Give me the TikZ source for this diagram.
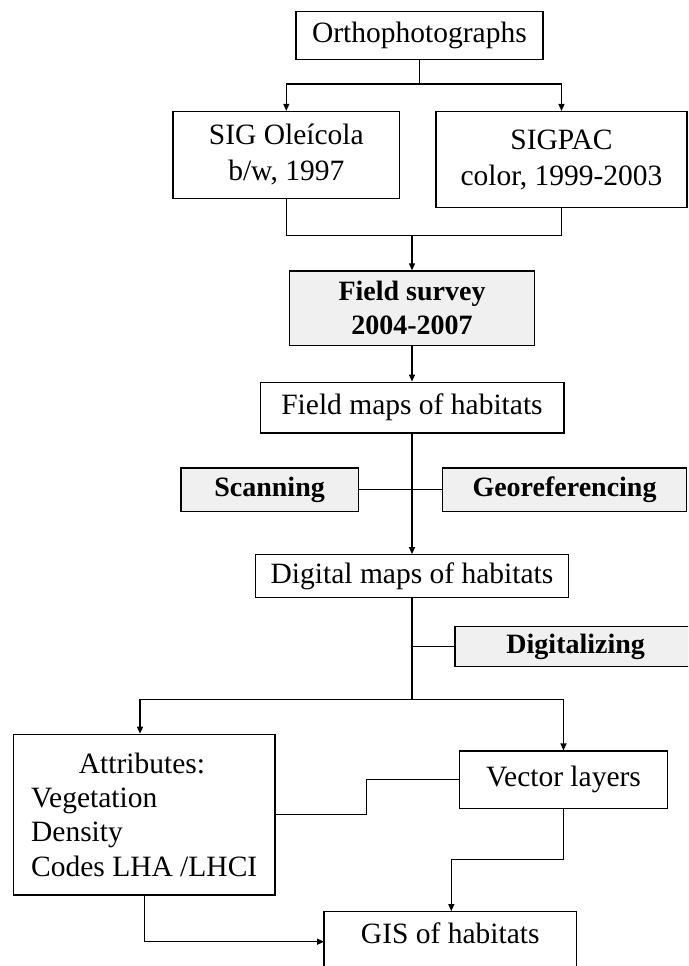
\documentclass[tikz,border=0pt]{standalone}
\usepackage{fontspec}
\setmainfont{Liberation Serif}
\usetikzlibrary{arrows.meta}
\begin{document}
\begin{tikzpicture}[x=1pt,y=-1pt,
  plainbox/.style={draw, line width=1.3pt, inner sep=0pt, align=center, font=\fontsize{29.5}{36}\selectfont},
  greybox/.style={plainbox, fill=gray!12, font=\fontsize{28}{34}\selectfont\bfseries},
  conn/.style={line width=1.3pt},
  arr/.style={conn, -{Triangle[length=7pt,width=6pt]}}]
\useasboundingbox (0,0) rectangle (688,966);
\clip (0,0) rectangle (688,966);
\fill[white] (0,0) rectangle (688,966);

\node[plainbox, minimum width=247pt, minimum height=48pt] (ortho) at (419.4,35.4) {Orthophotographs};
\node[plainbox, minimum width=226.5pt, minimum height=87pt] (sig) at (286.3,155) {SIG Oleícola\\b/w, 1997};
\node[plainbox, minimum width=251pt, minimum height=96pt] (sigpac) at (561.5,159.6) {SIGPAC\\color, 1999-2003};
\node[greybox, minimum width=244.6pt, minimum height=74.4pt] (survey) at (412,308.2) {Field survey\\2004-2007};
\node[plainbox, minimum width=303.7pt, minimum height=50.8pt] (fieldmaps) at (412,407.6) {Field maps of habitats};
\node[greybox, minimum width=177.4pt, minimum height=43.2pt] (scan) at (269.6,489.6) {Scanning};
\node[greybox, minimum width=243.7pt, minimum height=43.2pt] (georef) at (564.5,489.6) {Georeferencing};
\node[plainbox, minimum width=313.3pt, minimum height=42.9pt] (digital) at (412,576.2) {Digital maps of habitats};
\node[greybox, minimum width=241.4pt, minimum height=40pt] (digit) at (575.7,646.7) {Digitalizing};
\node[plainbox, minimum width=261.7pt, minimum height=160.7pt, align=left, font=\fontsize{29.5}{34.3}\selectfont] (attr) at (144.2,814.7)
  {\makebox[221.8pt][c]{Attributes:}\\Vegetation\\Density\\Codes LHA /LHCI};
\node[plainbox, minimum width=207.6pt, minimum height=57.3pt] (vector) at (563.5,779.7) {Vector layers};
\node[plainbox, anchor=base, minimum width=252.7pt, text height=31.6pt, text depth=60pt] (gis) at (450.3,943.3) {GIS of habitats};

\coordinate (j1) at (419.4,84);
\coordinate (j2) at (412,235.4);
\coordinate (j3) at (412,699.3);
\coordinate (j4) at (412,646.7);
\coordinate (ja) at (140,699.3);
\coordinate (k1) at (366.7,814.3);
\coordinate (k2) at (451.3,859.3);
\coordinate (k3) at (324,941.7);

\draw[conn] (ortho.south) -- (j1);
\draw[arr] (j1) -| (sig.north);
\draw[arr] (j1) -| (sigpac.north);
\draw[conn] (sig.south) |- (j2);
\draw[conn] (sigpac.south) |- (j2);
\draw[arr] (j2) -- (survey.north);
\draw[arr] (survey.south) -- (fieldmaps.north);
\draw[arr] (fieldmaps.south) -- (digital.north);
\draw[conn] (scan.east) -- (georef.west);
\draw[conn] (digital.south) -- (j3);
\draw[conn] (digit.west) -- (j4);
\draw[conn] (j3) -- (ja);
\draw[arr] (ja) -- (ja |- attr.north);
\draw[arr] (j3) -| (vector.north);
\draw[conn] (attr.east |- k1) -- (k1) |- (vector.west);
\draw[conn] (vector.south) |- (k2);
\draw[arr] (k2) -- (k2 |- gis.north);
\draw[arr] (attr.south) |- (k3);
\end{tikzpicture}
\end{document}
